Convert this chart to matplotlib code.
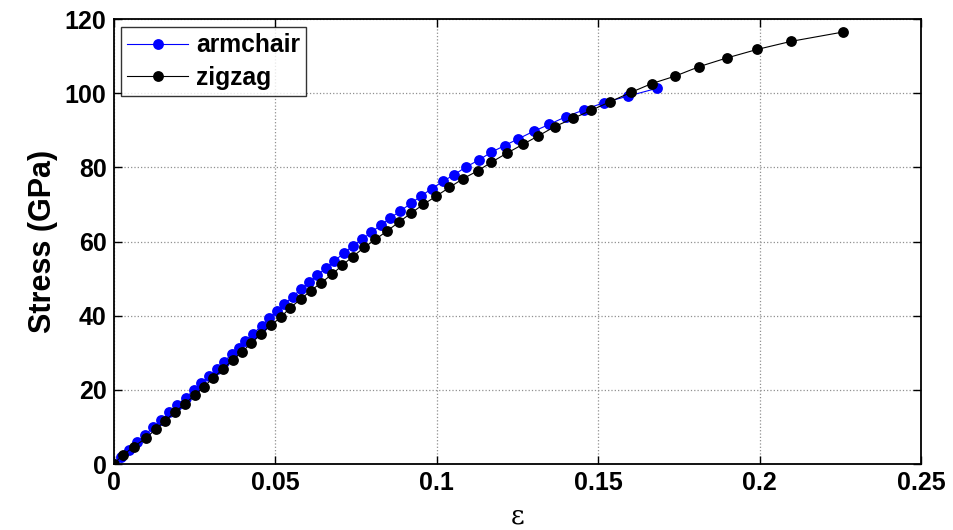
import matplotlib
matplotlib.use("Agg")
import matplotlib.pyplot as plt

# Stress-strain data for the two chiralities (strain, stress in GPa)
armchair_strain = [0.0, 0.0024, 0.0049, 0.0073, 0.0098, 0.0123, 0.0148, 0.0173, 0.0198,
                   0.0223, 0.0249, 0.0271, 0.0296, 0.0319, 0.0342, 0.0366, 0.0387, 0.0407,
                   0.0433, 0.0459, 0.0482, 0.0505, 0.0529, 0.0555, 0.0579, 0.0606, 0.0631,
                   0.0658, 0.0684, 0.0712, 0.0740, 0.0770, 0.0798, 0.0827, 0.0856, 0.0887,
                   0.0921, 0.0952, 0.0986, 0.1019, 0.1054, 0.1091, 0.1131, 0.1170, 0.1211,
                   0.1253, 0.1302, 0.1349, 0.1401, 0.1456, 0.1519, 0.1592, 0.1681]
armchair_stress = [0.0, 1.9, 3.9, 5.9, 7.9, 9.9, 11.9, 13.9, 15.9,
                   17.9, 19.9, 21.8, 23.7, 25.6, 27.6, 29.6, 31.4, 33.2,
                   35.2, 37.3, 39.3, 41.3, 43.2, 45.1, 47.1, 49.0, 50.9,
                   52.9, 54.8, 56.8, 58.8, 60.6, 62.5, 64.4, 66.3, 68.2,
                   70.3, 72.3, 74.3, 76.2, 78.0, 80.1, 82.0, 84.1, 85.9,
                   87.7, 89.8, 91.6, 93.7, 95.5, 97.5, 99.2, 101.3]

zigzag_strain = [0.0, 0.0029, 0.0063, 0.0099, 0.0131, 0.0160, 0.0189, 0.0220, 0.0252,
                 0.0280, 0.0309, 0.0338, 0.0369, 0.0398, 0.0427, 0.0456, 0.0487, 0.0518,
                 0.0546, 0.0579, 0.0610, 0.0643, 0.0677, 0.0708, 0.0740, 0.0776, 0.0811,
                 0.0846, 0.0883, 0.0920, 0.0959, 0.0998, 0.1040, 0.1083, 0.1128, 0.1170,
                 0.1217, 0.1267, 0.1313, 0.1366, 0.1422, 0.1479, 0.1537, 0.1601, 0.1666,
                 0.1738, 0.1814, 0.1898, 0.1992, 0.2098, 0.2258]
zigzag_stress = [0.0, 2.4, 4.7, 6.9, 9.4, 11.7, 13.9, 16.2, 18.6,
                 20.9, 23.2, 25.6, 28.0, 30.3, 32.6, 35.1, 37.4, 39.6,
                 42.1, 44.4, 46.7, 48.9, 51.2, 53.6, 55.9, 58.4, 60.6,
                 62.8, 65.2, 67.6, 70.0, 72.2, 74.6, 77.0, 79.1, 81.4,
                 83.8, 86.2, 88.4, 91.0, 93.2, 95.4, 97.7, 100.2, 102.6,
                 104.6, 107.2, 109.5, 111.8, 114.0, 116.5]

x_ticks = [0, 0.05, 0.1, 0.15, 0.2, 0.25]
x_tick_labels = ["0", "0.05", "0.1", "0.15", "0.2", "0.25"]
y_ticks = [0, 20, 40, 60, 80, 100, 120]

plt.rcParams['font.family'] = ['Liberation Sans', 'DejaVu Sans']
plt.rcParams['font.weight'] = 'bold'

fig = plt.figure(figsize=(9.54, 5.30), dpi=100)
ax = fig.add_axes([0.119, 0.1245, 0.8465, 0.8395])

ax.plot(armchair_strain, armchair_stress, '-o', color='#0000ff', lw=0.8,
        markersize=7.8, markeredgewidth=0, label='armchair', zorder=3)
ax.plot(zigzag_strain, zigzag_stress, '-o', color='black', lw=0.8,
        markersize=7.8, markeredgewidth=0, label='zigzag', zorder=4)

ax.set_xlim(0, 0.25)
ax.set_ylim(0, 120)
ax.set_xticks(x_ticks)
ax.set_xticklabels(x_tick_labels)
ax.set_yticks(y_ticks)

ax.grid(True, color='#909090', linestyle=':', linewidth=0.9)
ax.set_axisbelow(True)
for s in ax.spines.values():
    s.set_linewidth(1.3)
ax.tick_params(direction='in', length=6, width=1.0, top=True, right=True,
               labelsize=18, pad=5)
for lbl in ax.get_xticklabels() + ax.get_yticklabels():
    lbl.set_fontweight('bold')

ax.set_ylabel('Stress (GPa)', fontsize=22, fontweight='bold', labelpad=5)
ax.set_xlabel('ε', fontsize=19, family=['DejaVu Serif'], labelpad=6)

leg = ax.legend(loc='upper left', bbox_to_anchor=(0.009, 0.982), fontsize=17.7,
                frameon=True, fancybox=False, edgecolor='black', borderpad=0.25,
                handlelength=2.5, handletextpad=0.3, labelspacing=0.35,
                borderaxespad=0.0)
leg.get_frame().set_linewidth(1.0)
for t in leg.get_texts():
    t.set_fontweight('bold')

fig.savefig('out.png', dpi=100, facecolor='white')
